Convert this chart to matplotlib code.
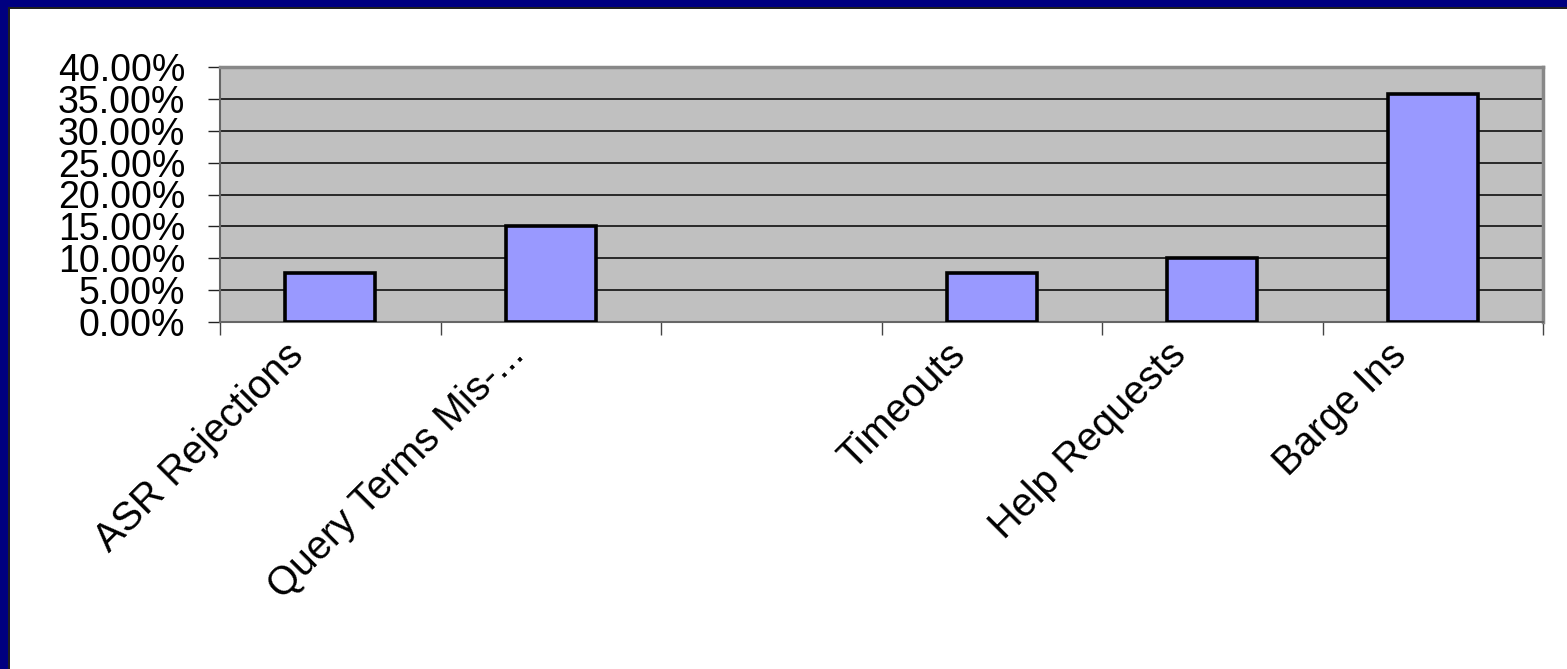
import matplotlib
matplotlib.use("Agg")
import matplotlib.pyplot as plt
from matplotlib.patches import Rectangle
from matplotlib.ticker import FuncFormatter, MultipleLocator

# share of calls per event type
categories = ["ASR Rejections", "Query Terms Mis-...", "", "Timeouts",
              "Help Requests", "Barge Ins"]
shares = [7.7, 15.1, 0.0, 7.7, 10.0, 35.7]

W, H = 1567, 669
plt.rcParams['font.family'] = ['Liberation Sans', 'DejaVu Sans']

fig = plt.figure(figsize=(W / 100, H / 100), dpi=100)
fig.patch.set_facecolor('white')

# slide frame: navy band along top and left edges
fig.patches.append(Rectangle((0, 0), 8 / W, 1, transform=fig.transFigure,
                             facecolor='#000080', edgecolor='none', zorder=0))
fig.patches.append(Rectangle((0, 1 - 7 / H), 1, 7 / H, transform=fig.transFigure,
                             facecolor='#000080', edgecolor='none', zorder=0))
fig.patches.append(Rectangle((8 / W, 0), 1.5 / W, 1 - 7 / H, transform=fig.transFigure,
                             facecolor='#202020', edgecolor='none', zorder=1))
fig.patches.append(Rectangle((8 / W, 1 - 8.5 / H), 1 - 8 / W, 1.5 / H,
                             transform=fig.transFigure,
                             facecolor='#202020', edgecolor='none', zorder=1))

x0, x1 = 220, 1543
y0, y1 = 322, 67
ax = fig.add_axes([x0 / W, 1 - y0 / H, (x1 - x0) / W, (y0 - y1) / H])
ax.set_facecolor('#C0C0C0')

xs = range(len(categories))
bars = ax.bar(xs, shares, width=0.41, color='#9999FF', edgecolor='black',
              linewidth=2.6, zorder=3)
# an empty category leaves no outline on the baseline
for b, v in zip(bars, shares):
    if v == 0:
        b.set_linewidth(0)

ax.set_xlim(-0.5, len(categories) - 0.5)
ax.set_ylim(0, 40)
ax.yaxis.set_major_locator(MultipleLocator(5))
ax.yaxis.set_major_formatter(FuncFormatter(lambda v, p: f"{v:.2f}%"))
ax.grid(axis='y', color='black', linewidth=1.1, zorder=1)
ax.set_axisbelow(True)

for side in ['top', 'right']:
    ax.spines[side].set_color('#888888')
    ax.spines[side].set_linewidth(2.5)
ax.spines['left'].set_color('#666666')
ax.spines['left'].set_linewidth(1.5)
ax.spines['bottom'].set_color('#666666')
ax.spines['bottom'].set_linewidth(1.5)

ax.tick_params(axis='y', length=9, width=1, color='#222222', pad=16,
               labelsize=27)

# category ticks sit on the boundaries between groups
ax.set_xticks([i - 0.5 for i in range(len(categories) + 1)])
ax.set_xticklabels([])
ax.tick_params(axis='x', which='major', length=9, width=1, color='#444444')
for i, name in enumerate(categories):
    ax.annotate(name, xy=(i, 0), xycoords=('data', 'axes fraction'),
                xytext=(-33, -10), textcoords='offset points',
                rotation=45, rotation_mode='anchor', ha='right', va='top',
                fontsize=28.5)

fig.savefig("out.png", dpi=100)
